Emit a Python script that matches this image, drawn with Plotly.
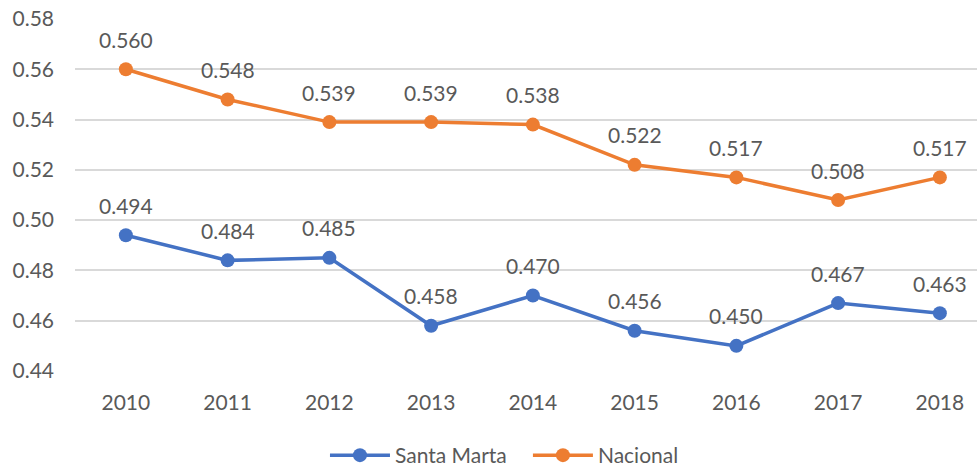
import plotly.graph_objects as go

years = ["2010", "2011", "2012", "2013", "2014", "2015", "2016", "2017", "2018"]
santa_marta = [0.494, 0.484, 0.485, 0.458, 0.470, 0.456, 0.450, 0.467, 0.463]
nacional = [0.560, 0.548, 0.539, 0.539, 0.538, 0.522, 0.517, 0.508, 0.517]
y_ticks = [0.44, 0.46, 0.48, 0.50, 0.52, 0.54, 0.56, 0.58]

FONT = "Lato"
FS = 21
GREY = "#595959"
BLUE = "#4472C4"
ORANGE = "#ED7D31"

fig = go.Figure()
for name, vals, col in [("Santa Marta", santa_marta, BLUE), ("Nacional", nacional, ORANGE)]:
    fig.add_trace(go.Scatter(
        x=years, y=vals, name=name + "   ", mode="lines+markers",
        line=dict(color=col, width=3.5),
        marker=dict(color=col, size=14),
    ))
    for i, v in enumerate(vals):
        fig.add_annotation(x=i, y=v, xref="x", yref="y", text=f"{v:.3f}",
                           showarrow=False, yshift=30,
                           font=dict(family=FONT, size=FS, color=GREY))

fig.update_layout(
    width=977, height=468,
    margin=dict(l=75, r=0, t=19, b=97, autoexpand=False),
    paper_bgcolor="white", plot_bgcolor="white",
    font=dict(family=FONT, size=FS, color=GREY),
    showlegend=True,
    legend=dict(orientation="h", x=0.485, xanchor="center", y=-0.24, yanchor="middle",
                font=dict(family=FONT, size=FS, color=GREY), itemwidth=60,
                traceorder="normal"),
)
fig.update_xaxes(type="category", range=[-0.5, 8.365], showgrid=False,
                 showline=False, ticks="", automargin=False,
                 tickfont=dict(size=FS, color=GREY), ticklabelstandoff=17)
fig.update_yaxes(range=[0.44, 0.58], tickvals=y_ticks,
                 ticktext=[f"{t:.2f}" for t in y_ticks], automargin=False,
                 showgrid=True, gridcolor="#D9D9D9", gridwidth=1.5,
                 zeroline=False, showline=False, ticks="",
                 tickfont=dict(size=FS, color=GREY), ticklabelstandoff=20)

fig.write_html("out.html", config={"displayModeBar": False},
               post_script="document.body.style.margin='0';document.body.style.overflow='hidden';")
